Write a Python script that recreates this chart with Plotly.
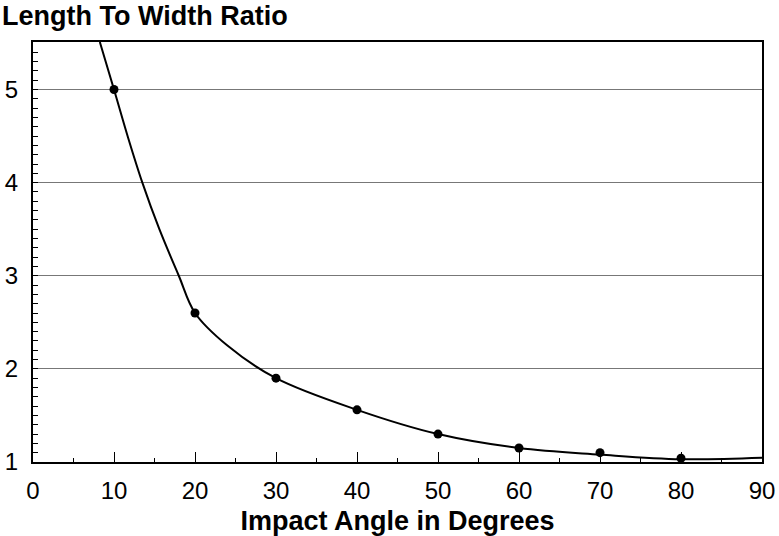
import plotly.graph_objects as go

# Measured data points (impact angle in degrees, length-to-width ratio)
angles = [10, 20, 30, 40, 50, 60, 70, 80]
ratios = [5.0, 2.60, 1.90, 1.56, 1.30, 1.15, 1.10, 1.04]

# Smooth fitted curve
curve_x = [8.25, 10, 11.75, 13.5, 15.6, 18, 20, 24, 30, 40, 50, 60, 70, 80, 90]
curve_y = [5.51, 5.0, 4.48, 4.0, 3.5, 3.0, 2.6, 2.25, 1.9, 1.56, 1.3, 1.15, 1.08, 1.03, 1.045]

x_ticks = [0, 10, 20, 30, 40, 50, 60, 70, 80, 90]
y_ticks = [1, 2, 3, 4, 5]

FONT = "Liberation Sans, Arial, sans-serif"

fig = go.Figure()
fig.add_trace(go.Scatter(
    x=curve_x, y=curve_y, mode="lines",
    line=dict(color="black", width=2, shape="spline", smoothing=1.0),
    hoverinfo="skip", showlegend=False,
))
fig.add_trace(go.Scatter(
    x=angles, y=ratios, mode="markers",
    marker=dict(color="black", size=9),
    showlegend=False,
))

fig.update_layout(
    width=779, height=536,
    margin=dict(l=33, r=17, t=42, b=74, autoexpand=False),
    paper_bgcolor="white", plot_bgcolor="white",
    font=dict(family=FONT, color="black"),
    title=dict(
        text="<b>Length To Width Ratio</b>",
        xref="container", yref="container",
        x=2 / 779, xanchor="left",
        y=1 - 16 / 536, yanchor="middle",
        font=dict(size=27, family=FONT, color="black"),
    ),
)

fig.update_xaxes(
    range=[0, 90], tickvals=x_ticks, ticktext=[str(v) for v in x_ticks],
    showgrid=False, zeroline=False, automargin=False,
    showline=True, linecolor="black", linewidth=2, mirror=True,
    ticks="inside", ticklen=10, tickwidth=1, tickcolor="black",
    minor=dict(dtick=5, ticks="inside", ticklen=4, tickcolor="black", showgrid=False),
    tickfont=dict(size=24, family=FONT, color="black"),
    ticklabelstandoff=6,
    title=dict(text="<b>Impact Angle in Degrees</b>", standoff=14,
               font=dict(size=27, family=FONT, color="black")),
)

fig.update_yaxes(
    range=[1, 5.51], tickvals=y_ticks, ticktext=[str(v) for v in y_ticks],
    showgrid=True, gridcolor="#777777", gridwidth=1, zeroline=False, automargin=False,
    showline=True, linecolor="black", linewidth=2, mirror=True,
    ticks="inside", ticklen=5, tickwidth=1, tickcolor="black",
    minor=dict(dtick=0.1, ticks="inside", ticklen=5, tickcolor="black", showgrid=False),
    tickfont=dict(size=24, family=FONT, color="black"),
    ticklabelstandoff=8,
)

fig.write_html(
    "out.html",
    config={"displayModeBar": False},
    post_script="document.body.style.margin='0';document.body.style.padding='0';",
)
